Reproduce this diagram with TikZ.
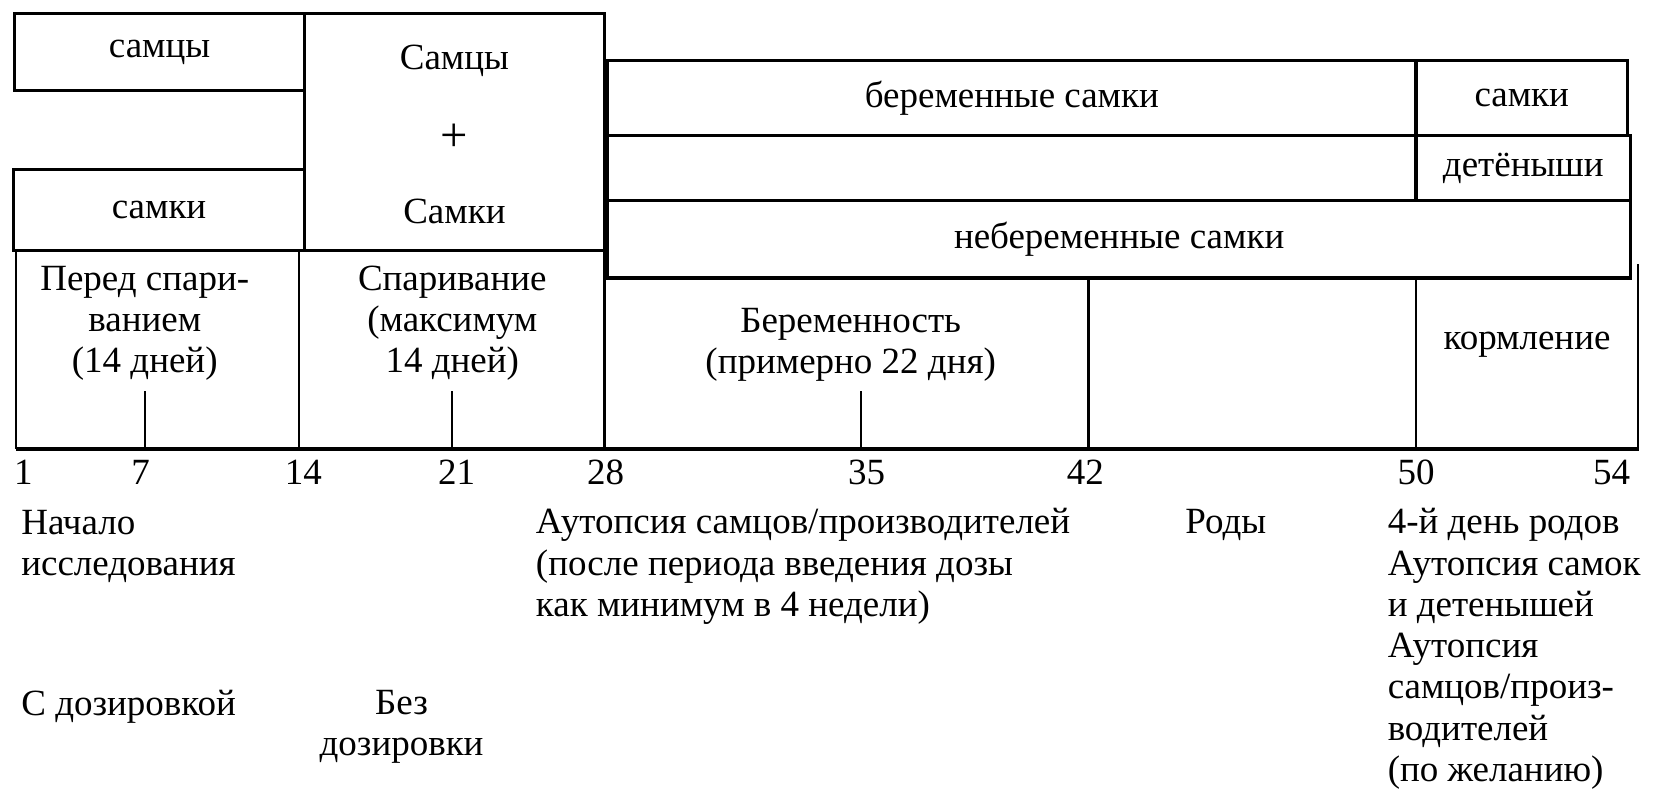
\documentclass[tikz,border=0pt]{standalone}
\usepackage{fontspec}
\setmainfont{Liberation Serif}
\begin{document}
\begin{tikzpicture}[x=1pt,y=-1pt,font=\fontsize{35}{39}\selectfont,
	box/.style={draw,line width=3pt,inner sep=0pt},
	cell/.style={line width=2.2pt},
	axis/.style={line width=3.5pt},
	txt/.style={inner sep=0pt}]

	\useasboundingbox (0,0) rectangle (1568,750);

	% Groups left
	\node (males) at (151,49.5) [box,minimum width=274pt,minimum height=73pt] {самцы};
	\node (females) at (150.5,198.5) [box,minimum width=275pt,minimum height=77pt] {самки};
	\node (mating) at (430,125) [box,minimum width=284pt,minimum height=224pt] {};
	\node (matingM) at (430,58) [txt] {Самцы};
	\node (plus) at (430,130) [txt,font=\fontsize{46}{50}\selectfont] {+};
	\node (matingF) at (430,200) [txt] {Самки};

	% Groups right
	\node (preg) at (957.5,92.5) [box,minimum width=765pt,minimum height=71pt] {беременные самки};
	\node (gap) at (957.5,159) [box,minimum width=765pt,minimum height=62pt] {};
	\node (nonpreg) at (1059,226.5) [box,minimum width=968pt,minimum height=73pt] {небеременные самки};
	\node (dams) at (1440,92.5) [box,minimum width=200pt,minimum height=71pt] {самки};
	\node (pups) at (1441.5,159) [box,minimum width=203pt,minimum height=62pt] {детёныши};

	% Phases
	\draw[cell] (15,237) -- (15,425);
	\draw[cell] (283,237) -- (283,425);
	\draw[cell] (572,237) -- (572,425);
	\draw[cell] (1030,263) -- (1030,425);
	\draw[cell] (1340,263) -- (1340,425);
	\draw[cell] (1550,250) -- (1550,425);
	\draw[axis] (15,425) -- (1551,425);

	\node (premating) at (137,306) [txt,align=center] {Перед спари-\\ванием\\(14 дней)};
	\node (matingP) at (428,306) [txt,align=center] {Спаривание\\(максимум\\14 дней)};
	\node (gestation) at (805,326) [txt,align=center] {Беременность\\(примерно 22 дня)};
	\node (lactation) at (1445,326) [txt] {кормление};

	% Ticks
	\draw[cell] (137,370) -- (137,425);
	\draw[cell] (428,370) -- (428,425);
	\draw[cell] (815,370) -- (815,425);

	% Days
	\node (d1) at (22,447) [txt] {1};
	\node (d7) at (133,447) [txt] {7};
	\node (d14) at (287,447) [txt] {14};
	\node (d21) at (432,447) [txt] {21};
	\node (d28) at (573,447) [txt] {28};
	\node (d35) at (820,447) [txt] {35};
	\node (d42) at (1027,447) [txt] {42};
	\node (d50) at (1340,447) [txt] {50};
	\node (d54) at (1525,447) [txt] {54};

	% Events
	\node (start) at (20,517) [txt,anchor=west,align=left] {Начало\\исследования};
	\node (autopsyM) at (507,536) [txt,anchor=west,align=left] {Аутопсия самцов/производителей\\(после периода введения дозы\\как минимум в 4 недели)};
	\node (birth) at (1160,497) [txt] {Роды};
	\node (autopsyF) at (1313,614) [txt,anchor=west,align=left] {4-й день родов\\Аутопсия самок\\и детенышей\\Аутопсия\\самцов/произ-\\водителей\\(по желанию)};

	% Dosing
	\node (dosed) at (20,669) [txt,anchor=west] {С дозировкой};
	\node (undosed) at (380,688) [txt,align=center] {Без\\дозировки};

\end{tikzpicture}
\end{document}
